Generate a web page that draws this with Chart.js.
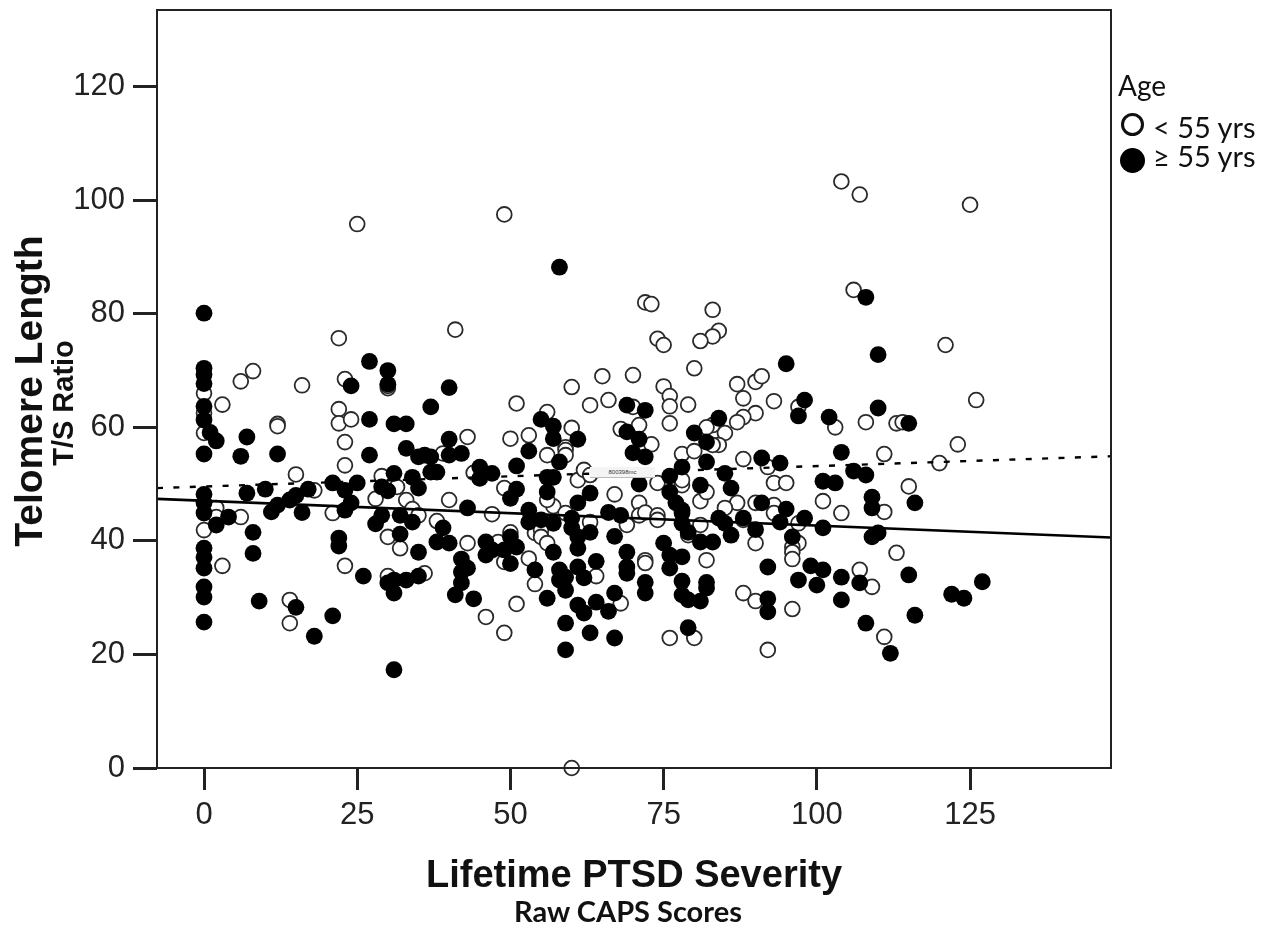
<!DOCTYPE html>
<html lang="en">
<head>
  <meta charset="UTF-8">
  <title>Telomere Length vs Lifetime PTSD Severity</title>
  <script src="https://cdn.jsdelivr.net/npm/chart.js"></script>
  <style>
    body { margin: 0; background: #fff; }
    #wrap { position: relative; width: 1275px; height: 929px; overflow: hidden; }
    canvas { position: absolute; left: 0; top: 0; }
    .txt { position: absolute; white-space: nowrap; color: #111; line-height: 1; }
    .arial { font-family: "Liberation Sans", Arial, sans-serif; font-weight: bold; }
    .lato { font-family: Lato, sans-serif; }
    .rot { transform: translate(-50%, -50%) rotate(-90deg); }
    .mid { transform: translate(-50%, -50%); }
    .dot { position: absolute; border-radius: 50%; box-sizing: border-box; }
    #tag { position: absolute; left: 590px; top: 467px; width: 65px; height: 10px; background: #f4f4f4; border-bottom: 1px solid #bbb;
      font: 6px "Liberation Sans", sans-serif; color: #333; text-align: center; line-height: 10px; }
  </style>
</head>
<body>
<div id="wrap">
  <canvas id="chart" width="1275" height="929"></canvas>
  <div id="tag">800398mc</div>
  <div class="txt arial rot" style="left:28px;top:391px;font-size:39px">Telomere Length</div>
  <div class="txt arial rot" style="left:63px;top:403px;font-size:29px">T/S Ratio</div>
  <div class="txt arial mid" style="left:634px;top:874px;font-size:38px">Lifetime PTSD Severity</div>
  <div class="txt lato mid" style="left:628px;top:910px;font-size:29px;font-weight:bold">Raw CAPS Scores</div>
  <div class="txt lato" style="left:1118px;top:71px;font-size:28px">Age</div>
  <div class="dot" style="left:1121px;top:113px;width:23px;height:23px;border:3.5px solid #111"></div>
  <div class="txt lato" style="left:1153px;top:112px;font-size:29px">&lt; 55 yrs</div>
  <div class="dot" style="left:1120px;top:148px;width:25px;height:25px;background:#000"></div>
  <div class="txt lato" style="left:1153px;top:141px;font-size:29px">≥ 55 yrs</div>
</div>

<script>
  const xTicks = [0, 25, 50, 75, 100, 125];
  const yTicks = [0, 20, 40, 60, 80, 100, 120];

  // [CAPS score, T/S ratio]
  const underFiftyFive = [
    [25,95.8],[49,97.5],[104,103.3],[107,101],[125,99.2],[106,84.2],[72,82],[73,81.7],[83,80.7],[84,77],
    [83,76],[81,75.2],[74,75.6],[75,74.5],[121,74.5],[41,77.2],[22,75.7],[8,69.9],[6,68.1],[23,68.5],
    [16,67.4],[0,66],[30,66.9],[30,67.3],[3,64],[0,62.5],[12,60.6],[12,60.2],[22,63.2],[22,60.7],
    [24,61.4],[0,59],[23,57.4],[23,53.3],[15,51.7],[18,48.9],[29,51.4],[39,55.4],[31.5,49.5],[28,47.4],
    [33,47.2],[34,45.6],[35,44.5],[40,47.2],[21,44.9],[6,44.2],[2,45.8],[2,44.2],[38,43.5],[0,41.9],
    [3,35.6],[23,35.6],[30,40.7],[32,38.7],[30,33.8],[36,34.3],[14,29.6],[14,25.5],
    [51,64.2],[60,67.1],[63,63.9],[66,64.8],[65,69],[70,69.2],[75,67.2],[80,70.4],[76,65.5],[76,63.7],
    [79,64],[70,63.6],[56,62.7],[76,60.7],[71,60.4],[68,59.7],[73,57],[43,58.3],[50,58],[53,58.6],
    [60,59.9],[59,56.5],[59,56],[59,55.1],[56,55.1],[78,55.3],[49,49.3],[44,52],[57,46.1],[67,48.2],
    [47,44.7],[71,46.7],[61,50.7],[62,52.5],[63,51.6],[74,50.2],[78,49.8],[78,50.7],[56,47.2],[59,44.9],
    [71,44.5],[72,45],[74,44.5],[74,43.7],[69,42.8],[63,43.3],[50,41.5],[54,41.4],[55,41.9],[55,40.7],
    [56,39.6],[43,39.6],[48,39.8],[53,36.9],[54,32.4],[49,36.3],[64,33.8],[68,29],[51,28.9],[46,26.6],
    [49,23.8],[72,36.6],[72,36.1],[76,22.9],[60,0],
    [88,65.1],[93,64.6],[90,62.5],[88,61.8],[87,60.9],[87,67.6],[90,68],[91,69],[97,63.6],[103,60],
    [108,60.9],[113,60.7],[114,60.9],[111,55.3],[88,54.4],[92,53],[93,50.2],[95,50.2],[115,49.6],[120,53.7],
    [123,57],[126,64.8],[101,47],[104,44.9],[111,45.1],[87,46.7],[90,46.7],[85,45.8],[93,46.3],[93,44.9],
    [97,43.1],[90,39.6],[97,39.6],[96,38.9],[85,59],[83,60.4],[82,60],[84,56.9],[83,56.9],[80,55.8],
    [81,47],[82,48.6],[81,42.8],[79,41],[88,43.7],[113,37.9],[82,36.6],[96,38],[96,36.8],[107,34.9],
    [109,31.9],[88,30.8],[90,29.4],[96,28],[92,20.8],[111,23.1],[80,22.9]
  ];
  const fiftyFivePlus = [
    [0,80.1],[0,70.4],[0,69.3],[0,67.7],[0,63.7],[0,61.3],[1,59.1],[2,57.6],[7,58.3],[0,55.3],
    [6,54.9],[12,55.3],[27,71.6],[30,70],[30,67.6],[24,67.3],[40,67],[37,63.6],[27,61.4],[31,60.6],
    [33,60.6],[27,55.1],[33,56.3],[35,54.8],[36,55.1],[37,54.8],[40,57.9],[40,55.1],[42,55.4],[37,52.1],
    [38,52.1],[31,51.9],[34,51.2],[35,49.3],[25,50.2],[21,50.2],[23,48.9],[24,46.7],[23,45.4],[29,49.5],
    [30,48.8],[10,49.1],[7,48.4],[0,48.2],[0,46.7],[0,44.9],[17,49.1],[15,48],[14,47.2],[12,46.3],
    [11,45.1],[16,45],[29,44.5],[32,44.5],[2,42.8],[4,44.2],[8,41.5],[8,37.8],[22,40.5],[22,39.1],
    [0,38.7],[0,37.1],[0,35.2],[0,31.9],[0,30.1],[0,25.7],[9,29.4],[26,33.8],[15,28.3],[21,26.8],
    [18,23.2],[31,17.3],[28,43],[34,43.3],[32,41.2],[35,38],[38,39.8],[39,42.3],[40,39.6],[30,32.6],
    [31,33.1],[31,30.8],[33,33.1],[35,33.8],[41,30.5],
    [55,61.4],[57,60.2],[57,58],[61,57.9],[69,63.9],[72,63],[69,59.2],[71,57.9],[70,55.5],[72,54.8],
    [53,55.8],[58,53.9],[51,53.2],[45,53],[45,51],[47,51.9],[56,51.2],[57,51.2],[51,49.1],[50,47.5],
    [56,48.6],[63,48.4],[61,46.7],[71,50],[76,51.4],[78,53],[76,48.6],[77,46.7],[43,45.8],[53,45.4],
    [53,43.3],[55,43.7],[57,43.1],[60,44],[66,45],[68,44.5],[60,42.3],[61,40.7],[63,41.5],[67,40.8],
    [78,43.1],[46,39.8],[46,37.5],[47,38.4],[49,38.4],[50,40.7],[51,38.9],[50,36],[42,36.8],[43,35.2],
    [42,34.5],[42,32.6],[44,29.8],[54,34.9],[56,29.9],[57,38],[61,38.7],[58,34.9],[58,33.1],[59,33.6],
    [59,31.3],[61,35.4],[62,33.5],[64,36.4],[69,38],[69,35.4],[69,34.3],[72,32.7],[72,30.8],[75,39.6],
    [76,37.5],[76,35.2],[78,37.2],[78,32.9],[78,30.5],[79,29.6],[79,24.7],[67,30.8],[64,29.2],[61,28.7],
    [62,27.3],[66,27.6],[59,25.5],[63,23.8],[67,22.9],[59,20.8],[58,88.2],
    [84,61.6],[80,59],[82,57.4],[82,53.9],[85,51.9],[86,49.3],[81,49.8],[91,54.6],[94,53.7],[98,64.8],
    [97,62],[102,61.8],[110,63.4],[115,60.7],[104,55.6],[106,52.3],[108,51.6],[101,50.5],[103,50.2],[109,47.7],
    [109,45.8],[116,46.7],[91,46.7],[95,45.6],[88,44],[98,44],[94,43.3],[84,44],[85,43.1],[86,41],
    [90,42],[101,42.3],[110,41.4],[109,40.7],[96,40.7],[81,39.8],[83,39.8],[79,41.5],[78,45.4],[78,44.9],
    [92,35.4],[99,35.6],[101,34.9],[97,33.1],[100,32.2],[104,33.6],[104,29.6],[107,32.6],[115,34],[92,29.8],
    [92,27.5],[108,25.5],[112,20.2],[116,26.9],[122,30.6],[124,29.9],[127,32.8],[82,32.7],[82,31.7],[81,29.4],
    [110,72.8],[108,82.9],[95,71.2]
  ];
  const fitUnder = [[-7.67,49.3],[148,54.9]];
  const fitOver = [[-7.67,47.4],[148,40.6]];

  const toXY = rows => rows.map(([x, y]) => ({ x, y }));

  // box round the plot, the axes only give the left and bottom sides
  const plotBox = {
    id: 'plotBox',
    afterDatasetsDraw(chart) {
      const a = chart.chartArea, c = chart.ctx;
      c.save();
      c.strokeStyle = '#222';
      c.lineWidth = 2;
      c.strokeRect(a.left, a.top, a.right - a.left, a.bottom - a.top);
      c.restore();
    }
  };

  new Chart(document.getElementById('chart'), {
    type: 'scatter',
    data: {
      datasets: [
        { label: '< 55 yrs', data: toXY(underFiftyFive), order: 4, pointRadius: 7.4, pointHoverRadius: 7.4,
          pointBackgroundColor: '#fff', pointBorderColor: '#2a2a2a', pointBorderWidth: 1.8 },
        { label: 'fit < 55', data: toXY(fitUnder), type: 'line', order: 3, pointRadius: 0,
          borderColor: '#000', borderWidth: 2.4, borderDash: [6, 10.4] },
        { label: 'fit >= 55', data: toXY(fitOver), type: 'line', order: 2, pointRadius: 0,
          borderColor: '#000', borderWidth: 2.6 },
        { label: '>= 55 yrs', data: toXY(fiftyFivePlus), order: 1, pointRadius: 8.4, pointHoverRadius: 8.4,
          pointBackgroundColor: '#000', pointBorderColor: '#000', pointBorderWidth: 0 }
      ]
    },
    options: {
      responsive: false,
      animation: false,
      clip: false,
      layout: { padding: { top: 10, right: 164, left: 0, bottom: 0 } },
      plugins: { legend: { display: false }, tooltip: { enabled: false } },
      scales: {
        x: {
          type: 'linear', min: -7.67, max: 148,
          afterBuildTicks: s => { s.ticks = xTicks.map(v => ({ value: v })); },
          afterFit: s => { s.height = 161; s.paddingLeft = 0; s.paddingRight = 0; },
          grid: { drawOnChartArea: false, tickLength: 22, tickWidth: 3, tickColor: '#222' },
          border: { display: false },
          ticks: { color: '#222', padding: 7, maxRotation: 0, font: { family: '"Liberation Sans", Arial, sans-serif', size: 31 } }
        },
        y: {
          type: 'linear', min: 0, max: 133.5,
          afterBuildTicks: s => { s.ticks = yTicks.map(v => ({ value: v })); },
          afterFit: s => { s.width = 157; s.paddingTop = 0; s.paddingBottom = 0; },
          grid: { drawOnChartArea: false, tickLength: 24, tickWidth: 3, tickColor: '#222' },
          border: { display: false },
          ticks: { color: '#222', padding: 8, font: { family: '"Liberation Sans", Arial, sans-serif', size: 31 } }
        }
      }
    },
    plugins: [plotBox]
  });
</script>
</body>
</html>
